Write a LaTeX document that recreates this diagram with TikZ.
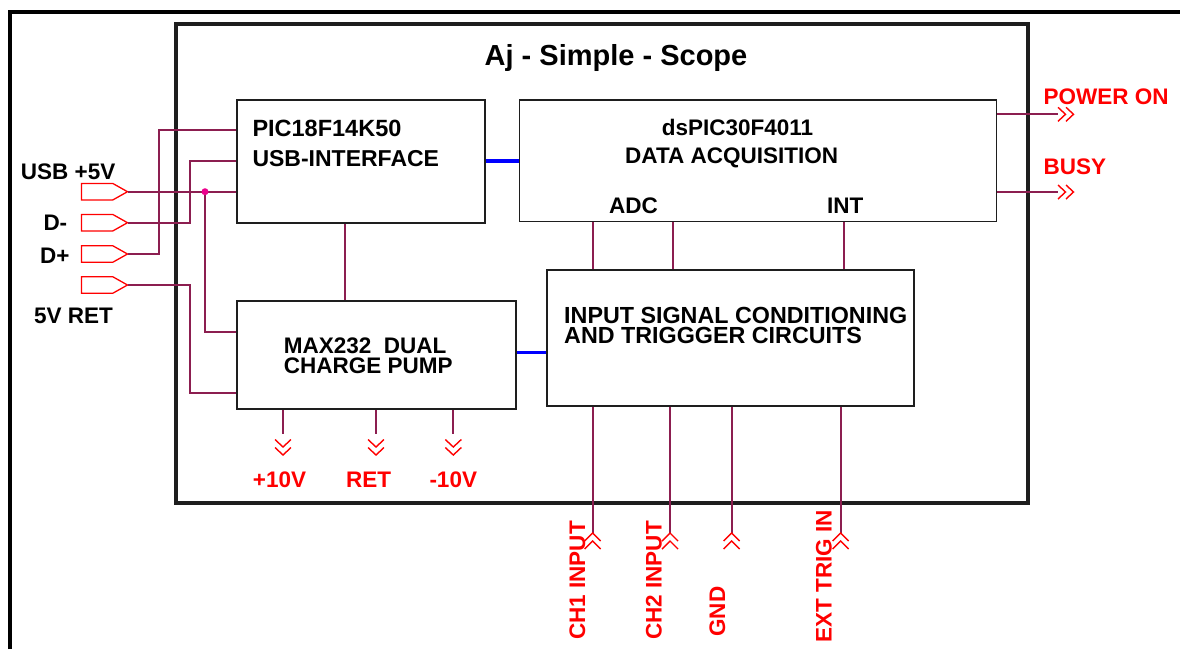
\documentclass[tikz,border=0pt]{standalone}
\usepackage{fontspec}
\setmainfont{Liberation Sans}
\definecolor{wirec}{RGB}{140,30,80}
\definecolor{boxc}{RGB}{30,30,30}
\begin{document}
\begin{tikzpicture}[x=1pt,y=-1pt,
  font=\bfseries\fontsize{22.5}{27}\selectfont,
  box/.style={draw=boxc, line width=1.8pt, inner sep=0, anchor=north west},
  wire/.style={draw=wirec, line width=1.7pt},
  bus/.style={draw=blue, line width=3.5pt},
  frame/.style={draw=black, line width=4pt},
  lbl/.style={anchor=base west, inner sep=0},
  mlbl/.style={lbl, align=left},
  rlbl/.style={lbl, text=red},
  vlbl/.style={rlbl, rotate=90},
  chev/.style={draw=red, line width=1.4pt},
  port/.style={draw=red, line width=1.3pt, fill=white}
]
\useasboundingbox (0,0) rectangle (1180,649);

% frames
\draw[frame, line width=3.5pt] (10,649) -- (10,12) -- (1182,12);
\node[frame, box, line width=4pt, minimum width=852pt, minimum height=479.5pt] (frm) at (174,21.5) {};
\node[anchor=base, inner sep=0, font=\bfseries\fontsize{29}{34}\selectfont] (title) at (616,65) {Aj - Simple - Scope};

% blocks
\node[box, minimum width=248pt, minimum height=123pt] (pic) at (236,99) {};
\node[box, minimum width=477pt, minimum height=121.5pt] (dsp) at (518.5,99) {};
\node[box, minimum width=279pt, minimum height=108pt] (max) at (236,300) {};
\node[box, minimum width=367pt, minimum height=136pt] (inp) at (546,269) {};

% block texts
\node[lbl, font=\bfseries\fontsize{23.5}{27}\selectfont] (t1) at (252.3,136.7) {PIC18F14K50};
\node[lbl, font=\bfseries\fontsize{23}{27}\selectfont] (t2) at (252.3,166.7) {USB-INTERFACE};
\node[lbl] (t3) at (661.7,135) {dsPIC30F4011};
\node[lbl] (t4) at (625,163) {DATA ACQUISITION};
\node[lbl] (t5) at (609,213) {ADC};
\node[lbl] (t6) at (827,213) {INT};
\node[mlbl, font=\bfseries\fontsize{22.5}{20}\selectfont] (t7) at (283.6,373.3) {MAX232\ \ DUAL\\CHARGE PUMP};
\node[mlbl, font=\bfseries\fontsize{23.3}{20}\selectfont] (t9) at (564,343.3) {INPUT SIGNAL CONDITIONING\\AND TRIGGGER CIRCUITS};

% buses
\draw[bus] (pic.east |- 0,161) -- (dsp.west |- 0,161);
\draw[bus] (max.east |- 0,352.7) -- (inp.west |- 0,352.7);

% internal wires
\draw[wire] (pic.south -| 345,0) -- (max.north -| 345,0);
\foreach \x in {593,673,844} \draw[wire] (dsp.south -| \x,0) -- (inp.north -| \x,0);

% left ports
\foreach \n/\y in {p1/191.7,p2/222.7,p3/254,p4/285}{
  \draw[port] (81.5,\y-8.3) -- (112.7,\y-8.3) -- (127.5,\y) -- (112.7,\y+8.3) -- (81.5,\y+8.3) -- cycle;
  \coordinate (\n) at (127.5,\y);
}
\node[lbl] (l1) at (20.7,179) {USB +5V};
\node[lbl] (l2) at (43.3,230.7) {D-};
\node[lbl] (l3) at (40,263.3) {D+};
\node[lbl] (l4) at (34,323.3) {5V RET};

\coordinate (j) at (205,191.7);
\draw[wire] (p1) -- (pic.west |- p1);
\draw[wire] (j) -- (205,331.7) -- (max.west |- 0,331.7);
\draw[wire] (p2) -- (190,222.7) -- (190,161.3) -- (pic.west |- 0,161.3);
\draw[wire] (p3) -- (159,254) -- (159,130) -- (pic.west |- 0,130);
\draw[wire] (p4) -- (190,285) -- (190,393) -- (max.west |- 0,393);
\fill[magenta] (j) circle (3.5pt);

% right outputs
\foreach \n/\y in {o1/114.3,o2/192}{
  \coordinate (\n) at (1057.7,\y);
  \draw[wire] (dsp.east |- \n) -- (\n);
  \draw[chev] (1058,\y-7) -- (1065.5,\y) -- (1058,\y+7);
  \draw[chev] (1066,\y-7) -- (1073.5,\y) -- (1066,\y+7);
}
\node[rlbl] (r1) at (1043.3,104.3) {POWER ON};
\node[rlbl] (r2) at (1043.3,174.3) {BUSY};

% bottom outputs of MAX232
\foreach \n/\x in {m1/283,m2/376,m3/453.3}{
  \coordinate (\n) at (\x,434);
  \draw[wire] (max.south -| \n) -- (\n);
  \draw[chev] (\x-8,439.5) -- (\x,447) -- (\x+8,439.5);
  \draw[chev] (\x-8,447.5) -- (\x,455) -- (\x+8,447.5);
}
\node[rlbl] (b1) at (252.7,487.3) {+10V};
\node[rlbl] (b2) at (346,487.3) {RET};
\node[rlbl] (b3) at (429.3,487.3) {-10V};

% bottom inputs
\foreach \n/\x in {i1/592.7,i2/670,i3/731.7,i4/840.7}{
  \coordinate (\n) at (\x,533);
  \draw[wire] (inp.south -| \n) -- (\n);
  \draw[chev] (\x-8,541) -- (\x,533) -- (\x+8,541);
  \draw[chev] (\x-8,549) -- (\x,541) -- (\x+8,549);
}
\node[vlbl] (v1) at (585,640) {CH1 INPUT};
\node[vlbl] (v2) at (661.7,640) {CH2 INPUT};
\node[vlbl] (v3) at (725,636.7) {GND};
\node[vlbl] (v4) at (831.7,642.7) {EXT TRIG IN};
\end{tikzpicture}
\end{document}
